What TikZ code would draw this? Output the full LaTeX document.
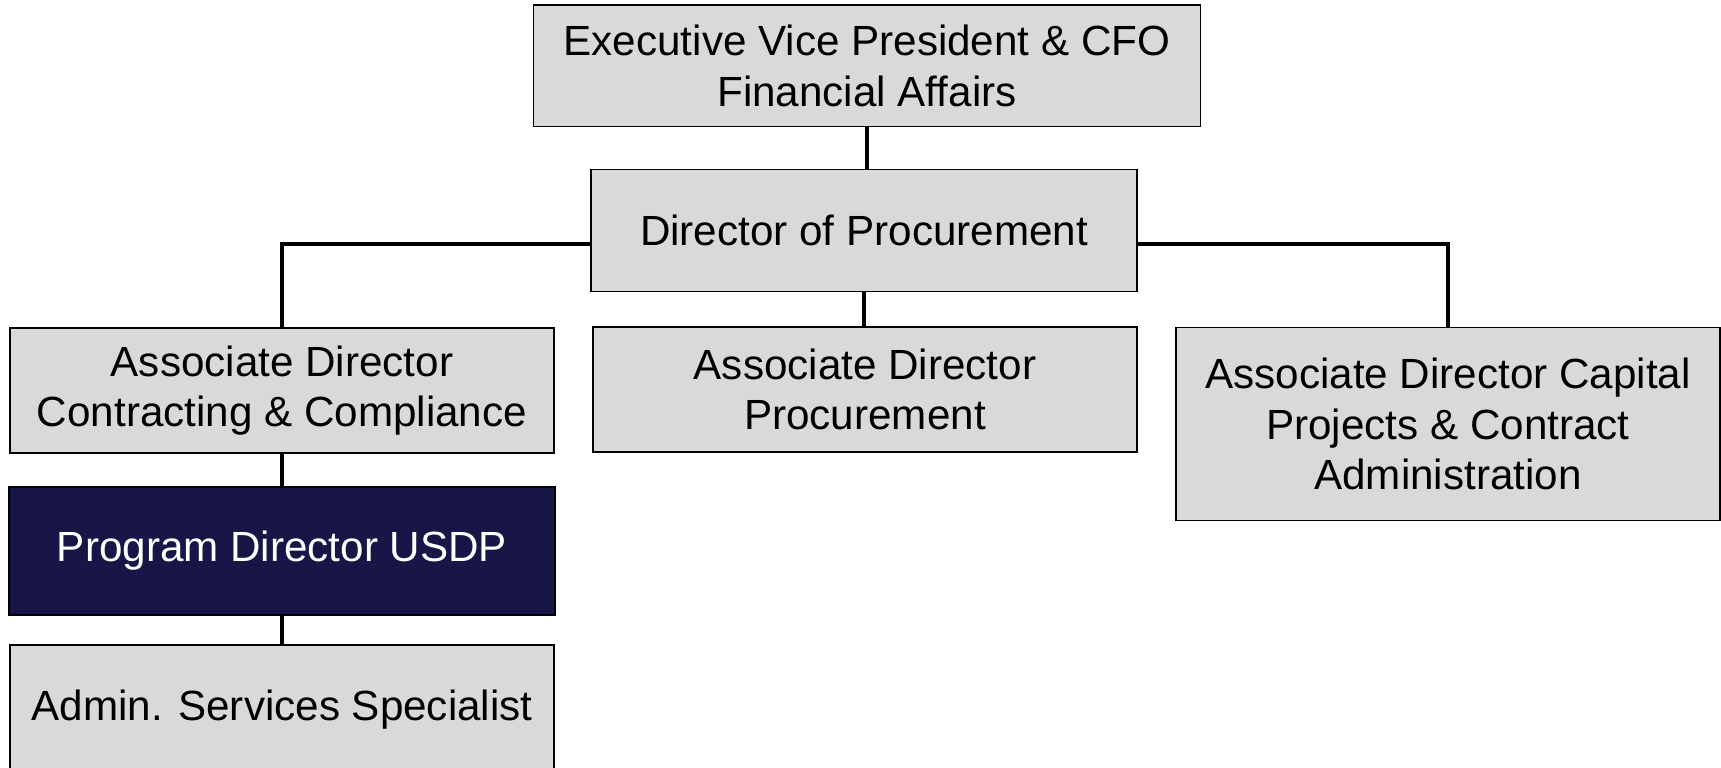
\documentclass[tikz,border=0pt]{standalone}
\usepackage{fontspec}
\setmainfont{Liberation Sans}
\definecolor{boxgray}{RGB}{217,217,217}
\definecolor{usdpnavy}{RGB}{24,21,71}
\tikzset{
  box/.style={draw=black, line width=0.4pt, fill=boxgray, align=center,
    inner sep=0pt, outer sep=0pt, font=\fontsize{12}{14.4}\selectfont},
  darkbox/.style={box, fill=usdpnavy, text=white},
  link/.style={line width=1.4pt},
}

\begin{document}
\begin{tikzpicture}[x=0.01cm,y=-0.01cm]
% Cadre :
\useasboundingbox (0,0) rectangle (1721,768);
% Boites :
\node[box, minimum width=6.67cm, minimum height=1.215cm] (cfo) at (867,66)
  {Executive Vice President \& CFO\\Financial Affairs};
\node[box, minimum width=5.46cm, minimum height=1.22cm] (dir) at (864,230.5)
  {Director of Procurement};
\node[box, minimum width=5.44cm, minimum height=1.25cm] (contr) at (282,390.5)
  {Associate Director\\Contracting \& Compliance};
\node[box, minimum width=5.44cm, minimum height=1.25cm] (procur) at (865,389.5)
  {Associate Director\\Procurement};
\node[box, minimum width=5.44cm, minimum height=1.93cm] (cap) at (1448,424)
  {Associate Director Capital\\Projects \& Contract\\Administration};
\node[darkbox, minimum width=5.46cm, minimum height=1.28cm] (usdp) at (282,551)
  {Program Director USDP};
\node[box, minimum width=5.44cm, minimum height=1.30cm] (admin) at (282,710)
  {Admin. Services Specialist};
% Liaisons :
\coordinate (bus) at (0,244);
\draw[link] (cfo.south) -- (cfo.south |- dir.north);
\draw[link] (dir.south) -- (dir.south |- procur.north);
\draw[link] (dir.west |- bus) -| (contr.north);
\draw[link] (dir.east |- bus) -| (cap.north);
\draw[link] (contr.south) -- (usdp.north);
\draw[link] (usdp.south) -- (admin.north);
\end{tikzpicture}
\end{document}
